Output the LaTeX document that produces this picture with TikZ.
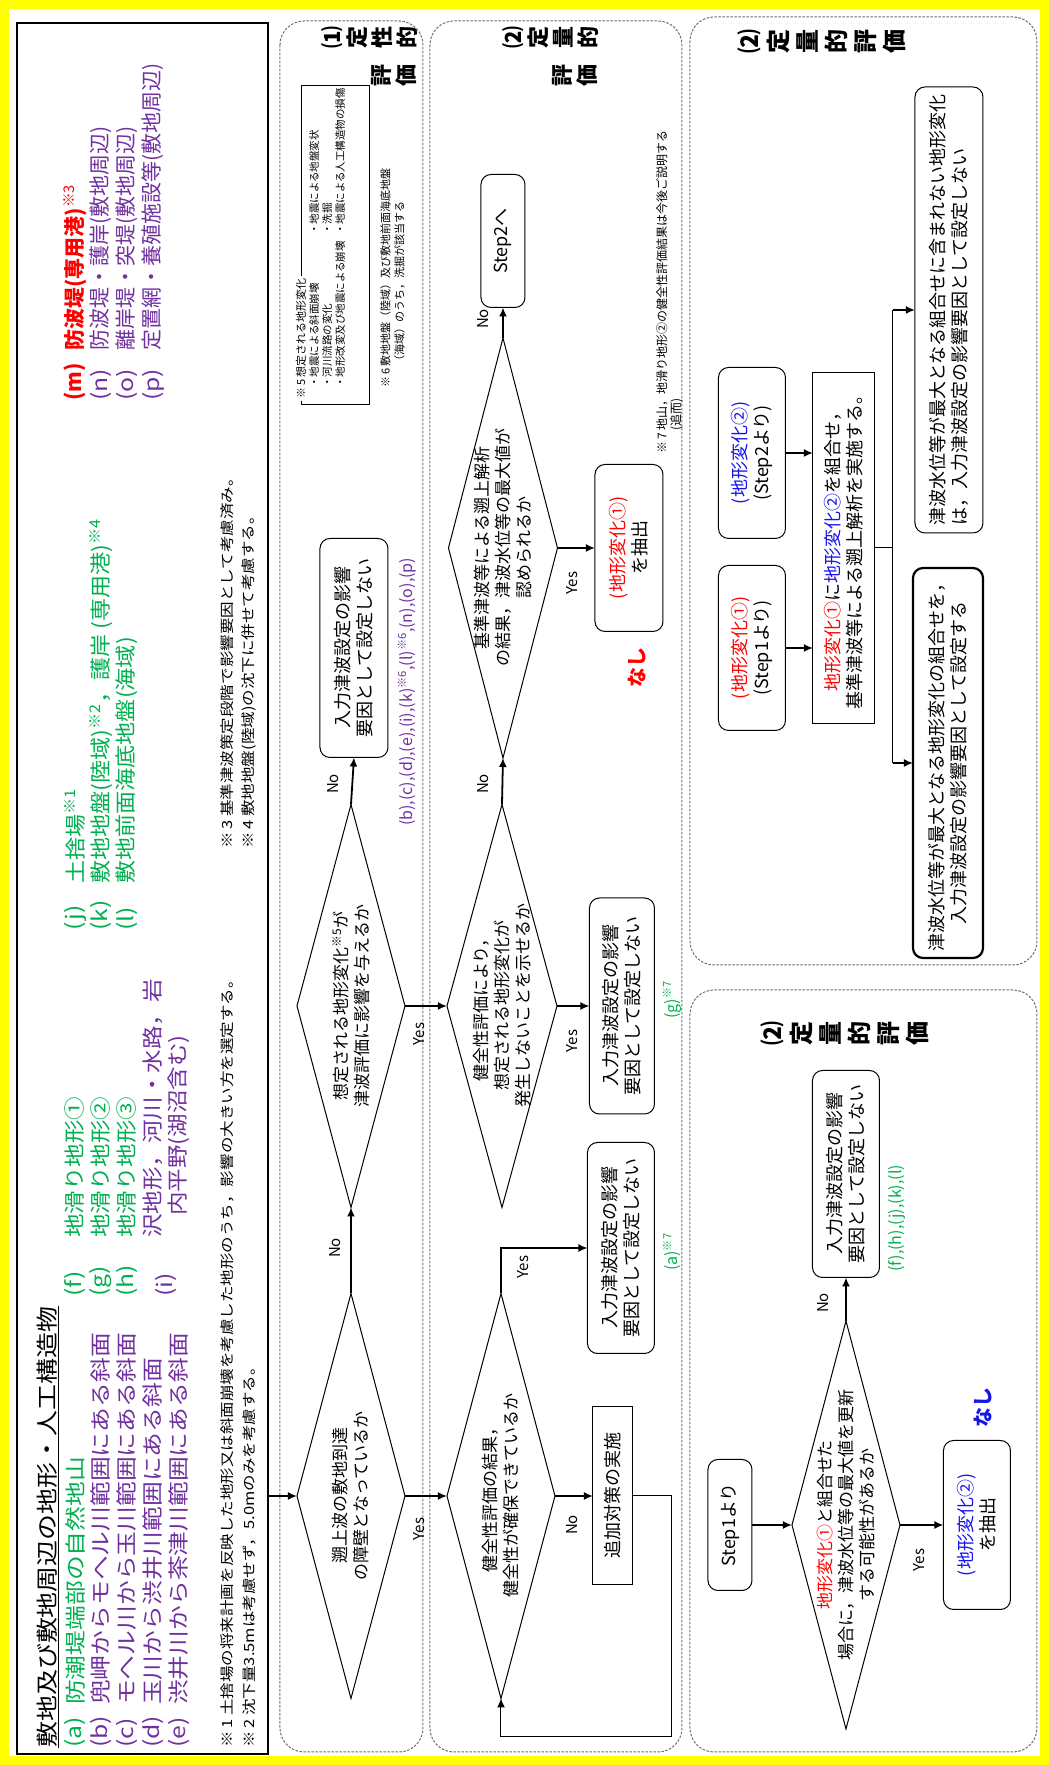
\documentclass[tikz,border=0pt]{standalone}
\usepackage{fontspec}
\setmainfont{Noto Sans CJK JP}
\usepackage{xcolor}
\usepackage{graphicx}
\usepackage{tikz}
\usetikzlibrary{arrows.meta, positioning, shapes.geometric, calc}

\definecolor{grn}{RGB}{0,176,80}
\definecolor{prp}{RGB}{112,48,160}
\definecolor{rd}{RGB}{255,0,0}
\definecolor{bl}{RGB}{20,20,235}
\definecolor{dashgray}{RGB}{110,110,110}
\definecolor{frameyellow}{RGB}{255,255,0}

\newcommand{\kome}[1]{\textsuperscript{※#1}}
\newcommand{\hwide}[2][1.18]{\scalebox{#1}[1]{#2}}

\tikzset{
  pnl/.style={draw=dashgray, dash pattern=on 2.5pt off 1.5pt, line width=1pt, rounded corners=24pt, inner sep=0pt, outer sep=0pt},
  dia/.style={diamond, draw, line width=1pt, inner sep=0pt, outer sep=0pt},
  dtxt/.style={align=center, inner sep=0pt, font=\fontsize{17}{21}\selectfont},
  rbox/.style={draw, line width=1pt, rounded corners=10pt, align=center, inner sep=0pt, outer sep=0pt, font=\fontsize{18}{22}\selectfont},
  sbox/.style={draw, line width=1pt, align=center, inner sep=0pt, outer sep=0pt, font=\fontsize{18}{22}\selectfont},
  arr/.style={-{Latex[length=9pt,width=8pt]}, line width=1.8pt},
  thinline/.style={line width=1pt},
  yn/.style={inner sep=0pt, font=\fontsize{15}{17}\selectfont},
  hitem/.style={anchor=west, inner sep=0pt, font=\fontsize{21}{25}\selectfont},
  hnote/.style={anchor=west, inner sep=0pt, font=\fontsize{14}{17}\selectfont},
  fnote/.style={anchor=north west, inner sep=0pt, align=left, font=\fontsize{10.5}{13}\selectfont},
  codes/.style={inner sep=0pt, font=\fontsize{16}{18}\selectfont},
  plabel/.style={anchor=north, inner sep=0pt, align=center, font=\fontsize{22}{25}\selectfont\bfseries},
}

\begin{document}
\begin{tikzpicture}[x=1pt, y=1pt]
\useasboundingbox (-1049,0) rectangle (0,1765);
\draw[frameyellow, line width=9pt] (-1044.5,4.5) rectangle (-4.5,1760.5);

\begin{scope}[rotate=90, transform shape]
  % header
  \node[draw, line width=1.8pt, minimum width=1731pt, minimum height=251pt, inner sep=0pt] (hdr) at (876.5,906.5) {};
  \node[anchor=west, inner sep=0pt, font=\fontsize{22}{26}\selectfont] (ttl) at (17,1001) {\hwide{\underline{敷地及び敷地周辺の地形・人工構造物}}};

  \node[hitem, text=grn] (la) at (17,974) {\hwide{(a)}};
  \node[hitem, text=grn] (ta) at (60,974) {\hwide{防潮堤端部の自然地山}};
  \node[hitem, text=prp] (lb) at (17,948) {\hwide{(b)}};
  \node[hitem, text=prp] (tb) at (60,948) {\hwide{兜岬からモヘル川範囲にある斜面}};
  \node[hitem, text=prp] (lc) at (17,922) {\hwide{(c)}};
  \node[hitem, text=prp] (tc) at (60,922) {\hwide{モヘル川から玉川範囲にある斜面}};
  \node[hitem, text=prp] (ld) at (17,896) {\hwide{(d)}};
  \node[hitem, text=prp] (td) at (60,896) {\hwide{玉川から渋井川範囲にある斜面}};
  \node[hitem, text=prp] (le) at (17,870) {\hwide{(e)}};
  \node[hitem, text=prp] (te) at (60,870) {\hwide{渋井川から茶津川範囲にある斜面}};

  \node[hitem, text=grn] (lf) at (468,974) {\hwide{(f)}};
  \node[hitem, text=grn] (tf) at (527,974) {\hwide[1.12]{地滑り地形①}};
  \node[hitem, text=grn] (lg) at (468,948) {\hwide{(g)}};
  \node[hitem, text=grn] (tg) at (527,948) {\hwide[1.12]{地滑り地形②}};
  \node[hitem, text=grn] (lh) at (468,922) {\hwide{(h)}};
  \node[hitem, text=grn] (th) at (527,922) {\hwide[1.12]{地滑り地形③}};
  \node[hitem, text=prp] (li) at (468,883) {\hwide{(i)}};
  \node[hitem, text=prp] (ti) at (527,896) {\hwide[1.12]{沢地形，河川・水路，岩}};
  \node[hitem, text=prp] (tii) at (549,870) {\hwide[1.12]{内平野(湖沼含む)}};

  \node[hitem, text=grn] (lj) at (834,974) {\hwide{(j)}};
  \node[hitem, text=grn] (tj) at (881,974) {\hwide[1.1]{土捨場\kome{1}}};
  \node[hitem, text=grn] (lk) at (834,948) {\hwide{(k)}};
  \node[hitem, text=grn] (tk) at (881,948) {\hwide[1.1]{敷地地盤(陸域)\kome{2}，護岸 (専用港)\kome{4}}};
  \node[hitem, text=grn] (ll) at (834,922) {\hwide{(l)}};
  \node[hitem, text=grn] (tl) at (881,922) {\hwide[1.1]{敷地前面海底地盤(海域)}};

  \node[hitem, text=rd] (lm) at (1364,974) {\textbf{(m)}};
  \node[hitem, text=rd] (tm) at (1414,974) {\textbf{防波堤(専用港)}\kome{3}};
  \node[hitem, text=prp] (ln) at (1364,948) {\hwide{(n)}};
  \node[hitem, text=prp] (tn) at (1414,948) {防波堤・護岸(敷地周辺)};
  \node[hitem, text=prp] (lo) at (1364,922) {\hwide{(o)}};
  \node[hitem, text=prp] (to) at (1414,922) {離岸堤・突堤(敷地周辺)};
  \node[hitem, text=prp] (lp) at (1364,896) {\hwide{(p)}};
  \node[hitem, text=prp] (tp) at (1414,896) {定置網・養殖施設等(敷地周辺)};

  \node[hnote] (n1) at (17,822) {\hwide{※\,1\ 土捨場の将来計画を反映した地形又は斜面崩壊を考慮した地形のうち，影響の大きい方を選定する。}};
  \node[hnote] (n2) at (17,800) {\hwide{※\,2\ 沈下量3.5mは考慮せず，5.0mのみを考慮する。}};
  \node[hnote] (n3) at (916,822) {\hwide{※\,3\ 基準津波策定段階で影響要因として考慮済み。}};
  \node[hnote] (n4) at (916,800) {\hwide{※\,4\ 敷地地盤(陸域)の沈下に併せて考慮する。}};

  % panels
  \node[pnl, minimum width=1731pt, minimum height=143pt] (p1) at (878.5,697.5) {};
  \node[pnl, minimum width=1731pt, minimum height=252pt] (p2) at (878.5,493) {};
  \node[pnl, minimum width=948pt, minimum height=347pt] (p3) at (1274,185.5) {};
  \node[pnl, minimum width=762pt, minimum height=347pt] (p4) at (394,185.5) {};

  \node[plabel] (p1a) at (1727,728) {⑴\\定\\性\\的};
  \node[plabel] (p1b) at (1689,678) {評\\価};
  \node[plabel] (p2a) at (1727,547) {⑵\\定\\量\\的};
  \node[plabel] (p2b) at (1689,497) {評\\価};
  \node[plabel, font=\fontsize{24}{29}\selectfont\bfseries] (p3a) at (1723,311) {⑵\\定\\量\\的\\評\\価};
  \node[plabel, font=\fontsize{24}{29}\selectfont\bfseries] (p4a) at (731,288) {⑵\\定\\量\\的\\評\\価};

  % (1) qualitative
  \node[dia, minimum width=405pt, minimum height=108pt] (d1) at (269,698) {};
  \node[dtxt] (d1t) at (d1) {遡上波の敷地到達\\の障壁となっているか};
  \node[dia, minimum width=403pt, minimum height=108pt] (d2) at (759,698) {};
  \node[dtxt] (d2t) at (d2) {想定される地形変化\kome{5}が\\津波評価に影響を与えるか};
  \node[rbox, minimum width=219pt, minimum height=68pt] (b1) at (1117,695) {入力津波設定の影響\\要因として設定しない};
  \node[codes, anchor=west, text=prp] (c1) at (939,642) {(b),(c),(d),(e),(i),(k)\kome{6},(l)\kome{6},(n),(o),(p)};

  \node[draw, line width=0.8pt, minimum width=319pt, minimum height=68pt, inner sep=0pt] (k5) at (1520.5,714) {};
  \node[anchor=west, fill=white, inner xsep=2pt, inner ysep=0pt, font=\fontsize{11}{12}\selectfont] (k5t) at (1364,748) {※\,5\ 想定される地形変化};
  \node[fnote] (k5a) at (1377,740) {・地震による斜面崩壊\\・河川流路の変化\\・地形改変及び地震による崩壊};
  \node[fnote] (k5b) at (1530,740) {・地震による地盤変状\\・洗掘\\・地震による人工構造物の損傷};
  \node[fnote, font=\fontsize{11}{14}\selectfont] (k6) at (1377,669) {※\,6\ 敷地地盤（陸域）及び敷地前面海底地盤\\\phantom{※\,6\ }（海域）のうち，洗掘が該当する};

  % (2) quantitative, step 1
  \node[dia, minimum width=405pt, minimum height=108pt] (d3) at (269,548) {};
  \node[dtxt] (d3t) at (d3) {健全性評価の結果，\\健全性が確保できているか};
  \node[dia, minimum width=403pt, minimum height=110pt] (d4) at (759,547) {};
  \node[dtxt] (d4t) at (d4) {健全性評価により，\\想定される地形変化が\\発生しないことを示せるか};
  \node[dia, minimum width=420pt, minimum height=109pt] (d5) at (1217,546) {};
  \node[dtxt] (d5t) at (d5) {基準津波等による遡上解析\\の結果，津波水位等の最大値が\\認められるか};
  \node[rbox, minimum width=133pt, minimum height=44pt] (st2) at (1524,546) {Step2へ};
  \node[rbox, minimum width=211pt, minimum height=67pt] (b2) at (517,428) {入力津波設定の影響\\要因として設定しない};
  \node[codes, text=grn] (c2) at (513,377) {(a)\kome{7}};
  \node[sbox, minimum width=178pt, minimum height=40pt] (b4) at (269,436) {追加対策の実施};
  \node[rbox, minimum width=216pt, minimum height=65pt] (b3) at (759,427) {入力津波設定の影響\\要因として設定しない};
  \node[codes, text=grn] (c3) at (765,377) {(g)\kome{7}};
  \node[rbox, minimum width=167pt, minimum height=68pt] (e1) at (1217,420) {\textcolor{rd}{(地形変化①)}\\を抽出};
  \node[inner sep=0pt, text=rd, font=\fontsize{20}{22}\selectfont\bfseries] (nash1) at (1097,412) {なし};
  \node[fnote, font=\fontsize{12}{14}\selectfont] (k7) at (1311,393) {※\,7\ 地山，地滑り地形②の健全性評価結果は今後ご説明する\\\phantom{※\,7\ }(追而)};

  \coordinate (h1) at (269,781);
  \draw[arr] (h1) -- (d1.north);
  \draw[arr] (d1.east) -- (d2.west);
  \draw[arr] (d2.east) -- (b1.west);
  \draw[arr] (d1.south) -- (d3.north);
  \draw[arr] (d2.south) -- (d4.north);
  \draw[arr] (d4.east) -- (d5.west);
  \draw[arr] (d5.east) -- (st2.west);
  \draw[arr] (d5.south) -- (e1.north);
  \draw[arr] (d4.south) -- (b3.north);
  \draw[arr] (d3.south) -- (b4.north);
  \coordinate (y3) at (517,548);
  \draw[arr] (d3.east) -- (y3) -- (b2.north);
  \coordinate (lp1) at (269,377);
  \coordinate (lp2) at (28,377);
  \coordinate (lp3) at (28,548);
  \draw[thinline, -{Latex[length=9pt,width=8pt]}] (b4.south) -- (lp1) -- (lp2) -- (lp3) -- (d3.west);

  \node[yn] (no1) at (517,714) {No};
  \node[yn] (no2) at (981,716) {No};
  \node[yn] (ye1) at (236,630) {Yes};
  \node[yn] (ye2) at (731,630) {Yes};
  \node[yn] (no3) at (981,566) {No};
  \node[yn] (ye4) at (724,477) {Yes};
  \node[yn] (no5) at (1446,566) {No};
  \node[yn] (ye5) at (1182,477) {Yes};
  \node[yn] (ye3) at (498,526) {Yes};
  \node[yn] (no4) at (240,477) {No};

  % (2) quantitative, step 3
  \node[rbox, minimum width=165pt, minimum height=67pt] (s21) at (1117,297) {\textcolor{rd}{(地形変化①)}\\(Step1より)};
  \node[rbox, minimum width=171pt, minimum height=67pt] (s22) at (1312,297) {\textcolor{bl}{(地形変化②)}\\(Step2より)};
  \node[sbox, minimum width=351pt, minimum height=62pt] (cmb) at (1217,205) {\textcolor{rd}{地形変化①}に\textcolor{bl}{地形変化②}を組合せ，\\基準津波等による遡上解析を実施する。};
  \node[rbox, line width=2.2pt, minimum width=390pt, minimum height=70pt] (b5) at (1002,101) {津波水位等が最大となる地形変化の組合せを，\\入力津波設定の影響要因として設定する};
  \node[rbox, minimum width=446pt, minimum height=68pt, align=left] (b6) at (1455,100) {津波水位等が最大となる組合せに含まれない地形変化\\は，入力津波設定の影響要因として設定しない};

  \draw[arr] (s21.south) -- ++(0,-27.5);
  \draw[arr] (s22.south) -- ++(0,-27.5);
  \coordinate (bj) at (1217,156);
  \coordinate (bl5) at (1002,156);
  \coordinate (br6) at (1455,156);
  \draw[thinline] (cmb.south) -- (bj);
  \draw[thinline] (bl5) -- (br6);
  \draw[arr] (bl5) -- (b5.north);
  \draw[arr] (br6) -- (b6.north);

  % (2) quantitative, step 2
  \node[rbox, minimum width=131pt, minimum height=44pt] (st1) at (240,319) {Step1より};
  \node[dia, minimum width=408pt, minimum height=108pt] (d6) at (240,203) {};
  \node[dtxt] (d6t) at (d6) {\textcolor{rd}{地形変化①}と組合せた\\場合に，津波水位等の最大値を更新\\する可能性があるか};
  \node[rbox, minimum width=207pt, minimum height=67pt] (b7) at (591,203) {入力津波設定の影響\\要因として設定しない};
  \node[codes, anchor=west, text=grn] (c7) at (493,152) {(f),(h),(j),(k),(l)};
  \node[rbox, minimum width=169pt, minimum height=67pt] (b8) at (240,72) {\textcolor{bl}{(地形変化②)}\\を抽出};
  \node[inner sep=0pt, text=bl, font=\fontsize{20}{22}\selectfont\bfseries] (nash2) at (357,66) {なし};

  \draw[arr] (st1.south) -- (d6.north);
  \draw[arr] (d6.east) -- (b7.west);
  \draw[arr] (d6.south) -- (b8.north);
  \node[yn] (no6) at (462,226) {No};
  \node[yn] (ye6) at (205,130) {Yes};
\end{scope}
\end{tikzpicture}
\end{document}
